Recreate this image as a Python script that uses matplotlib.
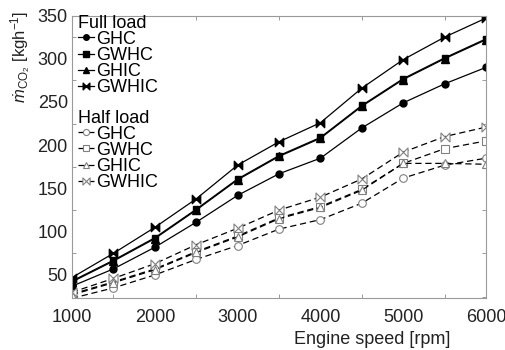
import matplotlib
matplotlib.use('Agg')
import matplotlib.pyplot as plt
import numpy as np
from matplotlib.path import Path
from matplotlib.ticker import FixedLocator

plt.rcParams['font.family'] = ['Liberation Sans', 'DejaVu Sans']
plt.rcParams['mathtext.fontset'] = 'custom'
plt.rcParams['mathtext.rm'] = 'Liberation Sans'
plt.rcParams['mathtext.it'] = 'Liberation Sans:italic'

# engine speed [rpm]
rpm = [1000, 1500, 2000, 2500, 3000, 3500, 4000, 4500, 5000, 5500, 6000]

# full load CO2 mass flow [kg/h]
full_ghc = [37, 57, 82, 111, 142, 167, 185, 220, 249, 271, 290]
full_gwhc = [43, 67, 93, 126, 161, 188, 209, 246, 277, 301, 323]
full_ghic = [42, 66, 92, 125, 160, 187, 208, 245, 276, 300, 322]
full_gwhic = [47, 75, 105, 138, 177, 204, 226, 266, 299, 325, 347]

# half load CO2 mass flow [kg/h]
half_ghc = [23, 35, 50, 68, 84, 103, 114, 133, 162, 177, 185]
half_gwhc = [28, 42, 57, 77, 95, 116, 129, 149, 179, 196, 205]
half_ghic = [27, 41, 56, 76, 94, 115, 128, 148, 179, 179, 178]
half_gwhic = [30, 46, 63, 85, 104, 125, 140, 161, 192, 210, 221]

labels = ['GHC', 'GWHC', 'GHIC', 'GWHIC']

# bowtie marker  |><|
bowtie = Path([(-1, -1), (-1, 1), (0, 0), (-1, -1),
               (1, -1), (1, 1), (0, 0), (1, -1)],
              [Path.MOVETO, Path.LINETO, Path.LINETO, Path.CLOSEPOLY,
               Path.MOVETO, Path.LINETO, Path.LINETO, Path.CLOSEPOLY])
markers = ['o', 's', '^', bowtie]
msizes = [5, 5, 5.5, 6]

fig = plt.figure(figsize=(5.05, 3.5), dpi=100)
ax = fig.add_axes([0.1426, 0.1477, 0.8198, 0.808])

full_handles = []
for ys, mk, ms, lab in zip([full_ghc, full_gwhc, full_ghic, full_gwhic], markers, msizes, labels):
    h, = ax.plot(rpm, ys, color='black', lw=0.9, marker=mk, ms=ms,
                 mfc='black', mec='black', label=lab)
    full_handles.append(h)

half_handles = []
for ys, mk, ms, lab in zip([half_ghc, half_gwhc, half_ghic, half_gwhic], markers, msizes, labels):
    h, = ax.plot(rpm, ys, color='black', lw=0.9, ls=(0, (5, 3)), marker=mk, ms=ms + 0.5,
                 mfc='white', mec='#808080', mew=0.8, label=lab)
    half_handles.append(h)

ax.set_xlim(1000, 6000)
ax.set_ylim(23, 350)
ax.set_xticks([1000, 2000, 3000, 4000, 5000, 6000])
ax.set_yticks([50, 100, 150, 200, 250, 300, 350])
ax.xaxis.set_minor_locator(FixedLocator([1500, 2500, 3500, 4500, 5500]))
ax.yaxis.set_minor_locator(FixedLocator([25, 75, 125, 175, 225, 275, 325]))
ax.tick_params(which='major', length=0, labelsize=13, colors='#222222')
ax.tick_params(axis='x', which='major', pad=8)
ax.tick_params(axis='y', which='major', pad=3)
ax.tick_params(which='minor', direction='in', length=3, width=0.7,
               color='#9a9a9a', top=True, right=True)
for sp in ax.spines.values():
    sp.set_color('#9a9a9a')
    sp.set_linewidth(0.8)

ax.set_xlabel('Engine speed [rpm]', fontsize=13, color='#222222')
ax.xaxis.set_label_coords(0.725, -0.115)
ax.set_ylabel(r'$\dot{m}_{\mathrm{CO}_2}$ [kgh$^{-1}$]', fontsize=12, color='#222222')
ax.yaxis.set_label_coords(-0.095, 0.854)

leg_kw = dict(frameon=False, fontsize=13, title_fontsize=13, alignment='left',
              handlelength=0.85, handletextpad=0.15, borderpad=0, borderaxespad=0,
              labelspacing=-0.05, markerscale=0.8, loc='upper left',
              bbox_transform=fig.transFigure)
leg1 = ax.legend(handles=full_handles, title='Full load',
                 bbox_to_anchor=(0.155, 0.958), **leg_kw)
ax.add_artist(leg1)
leg2 = ax.legend(handles=half_handles, title='Half load',
                 bbox_to_anchor=(0.155, 0.687), **leg_kw)

fig.savefig('out.png', dpi=100)
